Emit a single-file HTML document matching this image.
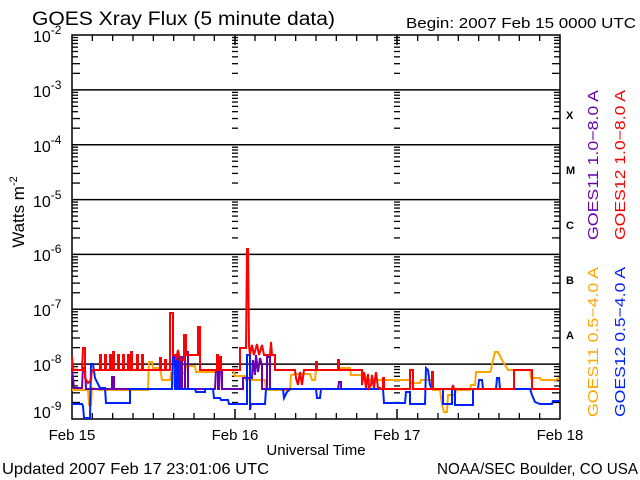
<!DOCTYPE html>
<html><head><meta charset="utf-8"><style>
html,body{margin:0;padding:0;background:#fff;width:640px;height:480px;overflow:hidden}
svg{display:block}
text{font-family:"Liberation Sans",sans-serif;fill:#000}
</style></head><body>
<svg id="s" width="640" height="480" xmlns="http://www.w3.org/2000/svg">
<rect width="640" height="480" fill="#fff"/>
<text x="32" y="25" font-size="19" textLength="303" lengthAdjust="spacingAndGlyphs">GOES Xray Flux (5 minute data)</text>
<text x="406" y="28" font-size="15" textLength="230" lengthAdjust="spacingAndGlyphs">Begin:  2007 Feb 15 0000 UTC</text>
<text x="2" y="474" font-size="16" textLength="267" lengthAdjust="spacingAndGlyphs">Updated 2007 Feb 17 23:01:06 UTC</text>
<text x="437" y="474" font-size="16" textLength="201" lengthAdjust="spacingAndGlyphs">NOAA/SEC Boulder, CO USA</text>
<text x="72" y="440" font-size="15" text-anchor="middle">Feb 15</text>
<text x="235" y="440" font-size="15" text-anchor="middle">Feb 16</text>
<text x="397" y="440" font-size="15" text-anchor="middle">Feb 17</text>
<text x="560" y="440" font-size="15" text-anchor="middle">Feb 18</text>
<text x="316" y="455" font-size="15" text-anchor="middle">Universal Time</text>
<text transform="translate(24,212) rotate(-90)" font-size="17" text-anchor="middle">Watts m<tspan dy="-7" font-size="11">-2</tspan></text>
<g font-family="Liberation Serif" font-weight="bold" font-size="11">
<text x="566" y="119">X</text><text x="566" y="174">M</text><text x="566" y="229">C</text><text x="566" y="284">B</text><text x="566" y="339">A</text></g>
<text transform="translate(598,240) rotate(-90)" font-size="15" fill="#6a00b0" style="fill:#6a00b0" textLength="150" lengthAdjust="spacingAndGlyphs">GOES11 1.0−8.0 A</text>
<text transform="translate(625,240) rotate(-90)" font-size="15" style="fill:#ff0000" textLength="150" lengthAdjust="spacingAndGlyphs">GOES12 1.0−8.0 A</text>
<text transform="translate(598,417) rotate(-90)" font-size="15" style="fill:#ffa500" textLength="150" lengthAdjust="spacingAndGlyphs">GOES11 0.5−4.0 A</text>
<text transform="translate(625,417) rotate(-90)" font-size="15" style="fill:#0022ff" textLength="150" lengthAdjust="spacingAndGlyphs">GOES12 0.5−4.0 A</text>
<g id="g"></g>
<g fill="none" stroke-width="2" stroke-linejoin="miter">
<polyline stroke="#ffa500" points="72,390 88,390 89,405 91,405 92,388 100,390 148,390 149,362 152,362 153,368 160,368 162,380 170,380 171,373 185,373 186,366 195,366 196,372 215,372 216,370 233,370 235,376 245,376 246,380 265,380 266,390 290,390 291,375 297,374 310,374 312,380 315,380 316,370 340,370 341,368 350,368 351,375 365,375 366,380 410,380 411,383 420,383 421,380 432,380 433,390 440,390 442,405 444,412 447,412 448,395 455,395 456,390 470,390 471,385 475,385 476,372 490,372 491,370 493,360 495,352 498,352 502,360 505,365 508,370 530,370 531,378 540,378 541,380 556,380 559,378"/>
<polyline stroke="#6a00b0" points="72,370 74,388 82,388 83,368 85,368 86,389 112,389 112,377 114,377 114,389 172,389 173,356 175,356 175,389 176,389 177,357 179,357 179,389 180,389 181,357 182,357 182,389 185,389 185,352 188,352 188,389 215,389 216,370 218,370 218,389 219,389 220,370 222,370 222,389 243,389 243,378 252,378 253,360 255,375 256,355 258,372 260,358 262,365 262,389 267,389 267,357 270,357 270,389 338,389 339,382 341,382 341,389"/>
<polyline stroke="#0022ff" points="72,404 82,404 83,406 84,418 90,418 91,364 93,364 95,378 98,384 100,388 105,388 106,403 130,403 130,389 172,389 173,358 175,358 175,389 177,389 177,355 178,355 178,389 195,389 196,392 205,392 205,389 213,389 214,398 220,398 221,400 228,400 229,404 247,404 247,355 250,355 250,410 251,404 265,404 266,389 283,389 284,398 287,392 290,389 316,389 317,398 320,398 321,389 383,389 384,403 405,403 406,392 410,392 410,404 425,404 426,368 428,370 430,385 432,389 443,389 443,404 452,404 452,389 455,389 455,405 473,405 473,389 478,389 479,380 482,380 483,389 496,389 497,378 499,378 500,389 530,389 532,395 535,402 540,404 552,404 553,401 560,401"/>
<polyline stroke="#ff0000" points="72,356 73,370 82,370 83,348 85,348 85,378 88,383 91,380 92,370 100,370 100,355 101,355 101,370 105,370 105,355 106,355 106,370 110,370 110,355 111,355 111,370 113,370 113,352 114,352 114,370 118,370 118,355 119,355 119,370 123,370 123,355 124,355 124,370 128,370 128,355 129,355 129,370 131,370 131,352 132,352 132,370 137,370 137,355 138,355 138,370 142,370 142,355 143,355 143,370 160,370 160,358 161,358 161,370 165,370 165,360 166,360 166,370 170,370 170,313 173,313 173,355 176,355 176,360 178,350 180,360 184,360 184,335 186,335 186,355 198,355 198,327 200,327 200,370 217,370 217,355 218,355 218,370 220,370 220,357 221,357 221,370 233,370 240,370 240,348 245,348 246,348 247,249 248,249 249,345 250,355 252,345 254,355 257,344 259,355 262,345 264,355 268,355 270,355 271,342 272,355 275,355 275,370 295,370 296,378 298,385 300,372 302,385 304,370 316,370 316,362 317,362 317,370 338,370 338,360 339,360 339,370 362,370 362,385 364,372 366,388 368,374 369,388 371,385 372,375 374,388 376,372 378,388 380,388 380,389 383,389 383,378 384,378 384,389 410,389 410,370 413,370 413,389 432,389 432,372 433,372 433,389 452,389 453,385 454,389 514,389 514,370 532,370 532,389 560,389"/>
</g>
</svg>
<script>
var g=document.getElementById('g'),ns='http://www.w3.org/2000/svg',h='';
function Y(e){return 35+(-2-e)*384/7;}
function L(x1,y1,x2,y2,w){h+='<line x1="'+x1+'" y1="'+y1+'" x2="'+x2+'" y2="'+y2+'" stroke="#000" stroke-width="'+(w||1.5)+'"/>';}
// decade lines
for(var d=-3;d>=-8;d--){var y=Y(d);L(72,y,560,y,1.5);}
for(var d=-9;d<-2;d++){for(var m=2;m<=9;m++){var y=Y(d+Math.log10(m));var len=m<=3?8:6;
 L(72,y,72+len,y,1.3);L(560-len,y,560,y,1.3);
 L(232,y,238,y,1.3);L(394,y,400,y,1.3);}}
for(var i=1;i<24;i++){var x=72+i*488/24;if(i%8==0)continue;L(x,419,x,413,1.3);L(x,35,x,41,1.3);}
L(235,419,235,409,1.5);L(397,419,397,409,1.5);L(235,35,235,45,1.5);L(397,35,397,45,1.5);
h+='<rect x="72" y="35" width="488" height="384" fill="none" stroke="#000" stroke-width="1.5"/>';
var labs=[[-2,42],[-3,97],[-4,152],[-5,207],[-6,261],[-7,316],[-8,371],[-9,418]];
labs.forEach(function(a){h+='<text x="33" y="'+a[1]+'" font-size="16">10<tspan dy="-8" font-size="12">'+a[0]+'</tspan></text>';});
g.innerHTML=h;
</script>
</body></html>
